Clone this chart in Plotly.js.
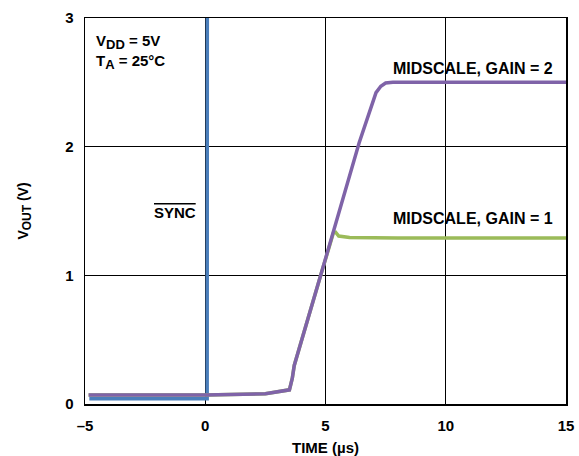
<!DOCTYPE html>
<html>
<head>
<meta charset="utf-8">
<script src="https://cdn.plot.ly/plotly-3.0.1.min.js"></script>
<style>html,body{margin:0;padding:0;background:#fff;}#chart{width:579px;height:456px;}</style>
</head>
<body>
<div id="chart"></div>
<script>
// SYNC signal (blue)
const timeSync = [-4.82, 0.05, 0.08, 0.09, 15];
const vSync    = [0.04, 0.04, 0.04, 5.0, 5.0];
// Midscale, gain = 1 (green)
const timeG1 = [-4.85, 0, 2.5, 3.5, 3.62, 3.7, 4.8, 5.33, 5.42, 5.55, 6.0, 8.0, 15];
const vG1    = [0.07, 0.07, 0.08, 0.11, 0.2, 0.3, 1.0, 1.33, 1.335, 1.305, 1.295, 1.29, 1.29];
// Midscale, gain = 2 (purple)
const timeG2 = [-4.85, 0, 2.5, 3.5, 3.62, 3.7, 4.8, 6.4, 7.1, 7.3, 7.5, 7.8, 15];
const vG2    = [0.07, 0.07, 0.08, 0.11, 0.2, 0.3, 1.0, 2.03, 2.42, 2.47, 2.495, 2.5, 2.5];
const xTicks = [-5, 0, 5, 10, 15];
const xTickText = ['\u20135', '0', '5', '10', '15'];
const yTicks = [0, 1, 2, 3];

const font = {family: '"Liberation Sans", Arial, sans-serif', color: '#000'};
const f = (s) => Object.assign({size: s}, font);

const traces = [
  {x: timeSync, y: vSync, mode: 'lines', line: {color: '#4a7ebb', width: 3.5}, hoverinfo: 'none'},
  {x: timeG1, y: vG1, mode: 'lines', line: {color: '#9bbb59', width: 3.5}, hoverinfo: 'none'},
  {x: timeG2, y: vG2, mode: 'lines', line: {color: '#7f63a8', width: 3.5}, hoverinfo: 'none'}
];

const layout = {
  width: 579, height: 456,
  margin: {l: 85, r: 13, t: 18, b: 52},
  paper_bgcolor: '#fff', plot_bgcolor: '#fff',
  showlegend: false,
  font: f(14),
  xaxis: {
    range: [-5, 15], tickvals: xTicks, ticktext: xTickText,
    showgrid: true, gridcolor: '#000', gridwidth: 1,
    zeroline: false, showline: true, linecolor: '#000', linewidth: 1.5, mirror: true,
    ticks: '', ticklabelstandoff: 7, tickfont: Object.assign({weight: 'bold'}, f(15)),
    title: {text: '<b>TIME (µs)</b>', font: f(15), standoff: 11}
  },
  yaxis: {
    range: [0, 3], tickvals: yTicks,
    showgrid: true, gridcolor: '#000', gridwidth: 1,
    zeroline: false, showline: true, linecolor: '#000', linewidth: 1.5, mirror: true,
    ticks: '', ticklabelstandoff: 7, tickfont: Object.assign({weight: 'bold'}, f(15)),
    title: {text: '<b>V<sub><span style="font-size:12px">OUT</span></sub> (V)</b>', font: f(14), standoff: 33}
  },
  annotations: [
    {xref: 'paper', yref: 'paper', x: 0.018, y: 0.968, xanchor: 'left', yanchor: 'top', align: 'left',
     showarrow: false,
     text: '<b>V<sub><span style="font-size:13px">DD</span></sub> = 5V<br>T<sub><span style="font-size:13px">A</span></sub> = 25°C</b>',
     font: f(15)},
    {x: -0.3, y: 1.49, xanchor: 'right', yanchor: 'middle', showarrow: false,
     text: '<b><span style="text-decoration:overline">SYNC</span></b>', font: f(15)},
    {x: 14.55, y: 2.61, xanchor: 'right', yanchor: 'middle', showarrow: false,
     text: '<b>MIDSCALE, GAIN = 2</b>', font: f(16)},
    {x: 14.55, y: 1.445, xanchor: 'right', yanchor: 'middle', showarrow: false,
     text: '<b>MIDSCALE, GAIN = 1</b>', font: f(16)}
  ]
};

Plotly.newPlot('chart', traces, layout, {displayModeBar: false, staticPlot: true});
</script>
</body>
</html>
